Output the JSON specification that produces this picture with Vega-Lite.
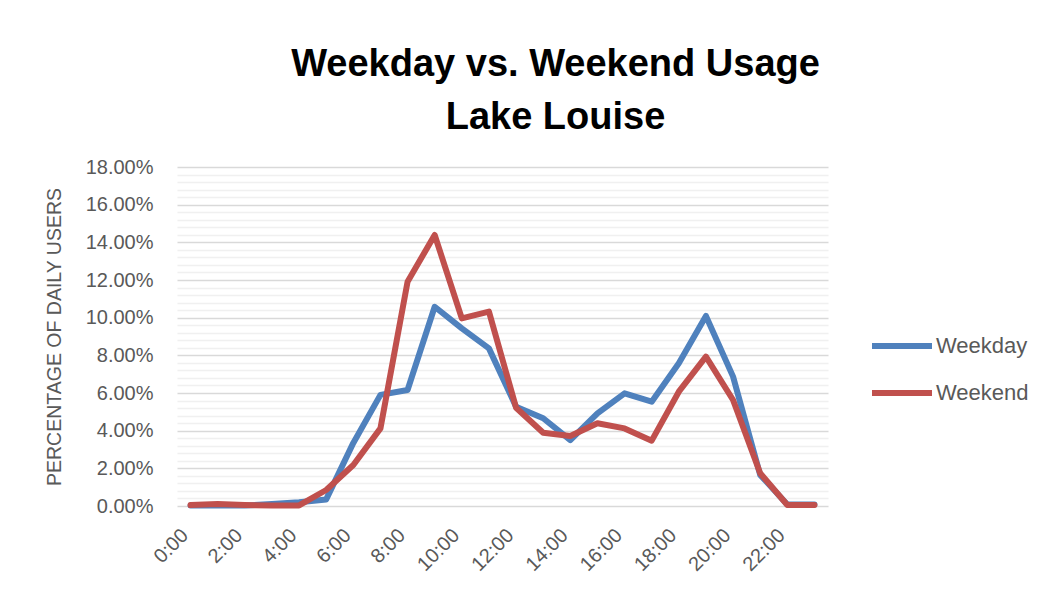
{
  "$schema": "https://vega.github.io/schema/vega-lite/v6.json",
  "autosize": {"type": "none"},
  "width": 651,
  "height": 339,
  "padding": {"left": 177, "top": 167, "right": 219, "bottom": 90},
  "background": "white",
  "title": {
    "text": ["Weekday vs. Weekend Usage", "Lake Louise"],
    "font": "Liberation Sans",
    "fontSize": 38,
    "fontWeight": "bold",
    "color": "#000000",
    "anchor": "middle",
    "dx": 53,
    "lineHeight": 53,
    "offset": 20
  },
  "config": {
    "view": {"stroke": null},
    "font": "Liberation Sans"
  },
  "data": {
    "values": [
      {"hour": "0:00", "series": "Weekday", "value": 0.0003},
      {"hour": "1:00", "series": "Weekday", "value": 0.0002},
      {"hour": "2:00", "series": "Weekday", "value": 0.0002},
      {"hour": "3:00", "series": "Weekday", "value": 0.001},
      {"hour": "4:00", "series": "Weekday", "value": 0.002},
      {"hour": "5:00", "series": "Weekday", "value": 0.0035},
      {"hour": "6:00", "series": "Weekday", "value": 0.0335},
      {"hour": "7:00", "series": "Weekday", "value": 0.059},
      {"hour": "8:00", "series": "Weekday", "value": 0.0616},
      {"hour": "9:00", "series": "Weekday", "value": 0.1058},
      {"hour": "10:00", "series": "Weekday", "value": 0.0943},
      {"hour": "11:00", "series": "Weekday", "value": 0.0837},
      {"hour": "12:00", "series": "Weekday", "value": 0.0527},
      {"hour": "13:00", "series": "Weekday", "value": 0.0466},
      {"hour": "14:00", "series": "Weekday", "value": 0.035},
      {"hour": "15:00", "series": "Weekday", "value": 0.0492},
      {"hour": "16:00", "series": "Weekday", "value": 0.0598},
      {"hour": "17:00", "series": "Weekday", "value": 0.0554},
      {"hour": "18:00", "series": "Weekday", "value": 0.0758},
      {"hour": "19:00", "series": "Weekday", "value": 0.1009},
      {"hour": "20:00", "series": "Weekday", "value": 0.0687},
      {"hour": "21:00", "series": "Weekday", "value": 0.0165},
      {"hour": "22:00", "series": "Weekday", "value": 0.0008},
      {"hour": "23:00", "series": "Weekday", "value": 0.0008},
      {"hour": "0:00", "series": "Weekend", "value": 0.0005},
      {"hour": "1:00", "series": "Weekend", "value": 0.001},
      {"hour": "2:00", "series": "Weekend", "value": 0.0005},
      {"hour": "3:00", "series": "Weekend", "value": 0.0003},
      {"hour": "4:00", "series": "Weekend", "value": 0.0003},
      {"hour": "5:00", "series": "Weekend", "value": 0.0085},
      {"hour": "6:00", "series": "Weekend", "value": 0.0218},
      {"hour": "7:00", "series": "Weekend", "value": 0.0412},
      {"hour": "8:00", "series": "Weekend", "value": 0.1191},
      {"hour": "9:00", "series": "Weekend", "value": 0.1439},
      {"hour": "10:00", "series": "Weekend", "value": 0.0996},
      {"hour": "11:00", "series": "Weekend", "value": 0.1032},
      {"hour": "12:00", "series": "Weekend", "value": 0.0522},
      {"hour": "13:00", "series": "Weekend", "value": 0.0389},
      {"hour": "14:00", "series": "Weekend", "value": 0.0372},
      {"hour": "15:00", "series": "Weekend", "value": 0.0439},
      {"hour": "16:00", "series": "Weekend", "value": 0.0412},
      {"hour": "17:00", "series": "Weekend", "value": 0.0347},
      {"hour": "18:00", "series": "Weekend", "value": 0.0607},
      {"hour": "19:00", "series": "Weekend", "value": 0.0793},
      {"hour": "20:00", "series": "Weekend", "value": 0.0563},
      {"hour": "21:00", "series": "Weekend", "value": 0.0174},
      {"hour": "22:00", "series": "Weekend", "value": 0.0005},
      {"hour": "23:00", "series": "Weekend", "value": 0.0005}
    ]
  },
  "resolve": {"axis": {"y": "independent"}},
  "layer": [
    {
      "mark": {"type": "line", "opacity": 0},
      "encoding": {
        "x": {
          "field": "hour", "type": "ordinal", "sort": null,
          "scale": {"type": "point", "padding": 0.5},
          "axis": {
            "values": ["0:00","2:00","4:00","6:00","8:00","10:00","12:00","14:00","16:00","18:00","20:00","22:00"],
            "labelAngle": -45, "labelAlign": "right", "labelBaseline": "middle",
            "labelFontSize": 20, "labelColor": "#595959", "labelPadding": 26, "labelOffset": -6,
            "ticks": false, "domain": false, "grid": false, "title": null
          }
        },
        "y": {
          "field": "value", "type": "quantitative",
          "scale": {"domain": [0, 0.18], "nice": false},
          "axis": {
            "orient": "left",
            "values": [0.004,0.008,0.012,0.016,0.024,0.028,0.032,0.036,0.044,0.048,0.052,0.056,0.064,0.068,0.072,0.076,0.084,0.088,0.092,0.096,0.104,0.108,0.112,0.116,0.124,0.128,0.132,0.136,0.144,0.148,0.152,0.156,0.164,0.168,0.172,0.176],
            "labels": false, "ticks": false, "domain": false, "title": null,
            "grid": true, "gridColor": "#f0f0f0", "gridWidth": 1.5
          }
        },
        "detail": {"field": "series"}
      }
    },
    {
      "mark": {"type": "line", "strokeWidth": 6, "strokeCap": "round", "strokeJoin": "round"},
      "encoding": {
        "x": {
          "field": "hour", "type": "ordinal", "sort": null,
          "scale": {"type": "point", "padding": 0.5},
          "axis": {
            "values": ["0:00","2:00","4:00","6:00","8:00","10:00","12:00","14:00","16:00","18:00","20:00","22:00"],
            "labelAngle": -45, "labelAlign": "right", "labelBaseline": "middle",
            "labelFontSize": 20, "labelColor": "#595959", "labelPadding": 26, "labelOffset": -6,
            "ticks": false, "domain": false, "grid": false, "title": null
          }
        },
        "y": {
          "field": "value", "type": "quantitative",
          "scale": {"domain": [0, 0.18], "nice": false},
          "axis": {
            "orient": "left",
            "values": [0,0.02,0.04,0.06,0.08,0.1,0.12,0.14,0.16,0.18],
            "format": ".2%",
            "labelFontSize": 20, "labelColor": "#595959", "labelPadding": 24,
            "ticks": false, "domain": false,
            "grid": true, "gridColor": "#d9d9d9", "gridWidth": 1.5,
            "title": "PERCENTAGE OF DAILY USERS",
            "titleFontSize": 19.5, "titleFontWeight": "normal", "titleColor": "#595959",
            "titlePadding": 21
          }
        },
        "color": {
          "field": "series", "type": "nominal",
          "scale": {"domain": ["Weekday", "Weekend"], "range": ["#4f81bd", "#c0504d"]},
          "legend": {
            "orient": "none", "legendX": 692, "legendY": 146,
            "title": null,
            "symbolType": "stroke", "symbolStrokeWidth": 6, "symbolSize": 3600,
            "labelFontSize": 22, "labelColor": "#595959", "labelOffset": 1,
            "rowPadding": 2
          }
        }
      }
    }
  ]
}
